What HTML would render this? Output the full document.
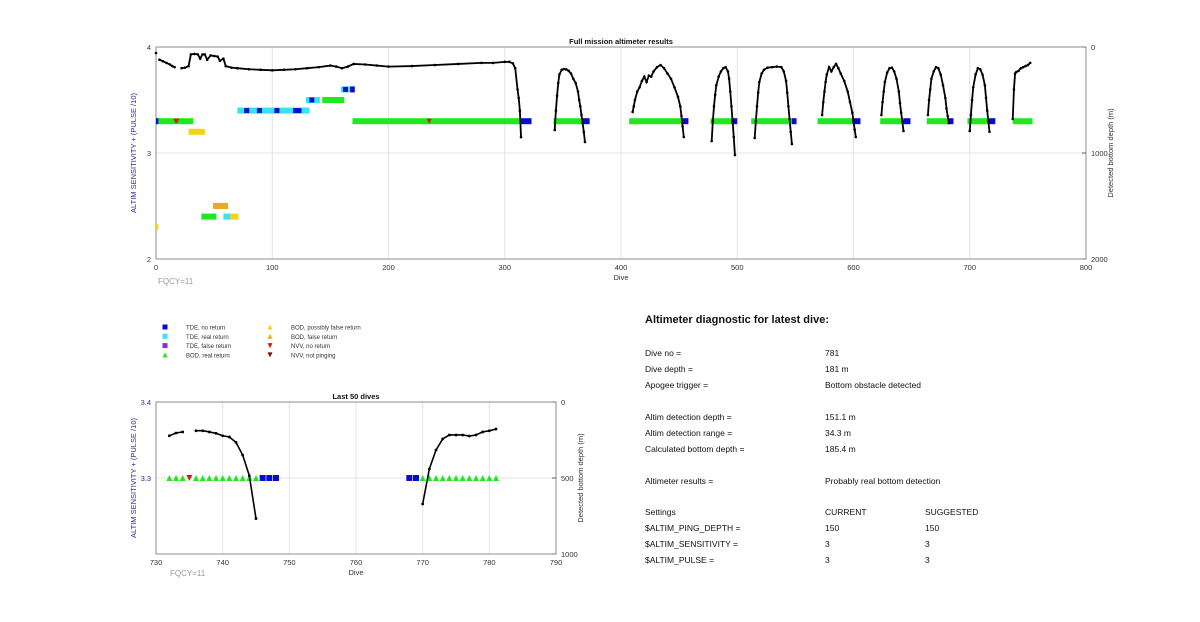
<!DOCTYPE html>
<html><head><meta charset="utf-8"><style>
body{margin:0;background:#fff;width:1200px;height:622px;overflow:hidden;font-family:"Liberation Sans",Arial,sans-serif}
svg{position:absolute;left:0;top:0}
.t{font-family:"Liberation Sans",Arial,sans-serif}
.panel div{position:absolute;font-size:8.5px;color:#111;white-space:nowrap}
</style></head><body>
<svg id="chart" width="1200" height="622"></svg>
<div class="panel">
<div style="left:645px;top:314px;font-size:11px;font-weight:bold">Altimeter diagnostic for latest dive:</div>
<div style="left:645px;top:348px">Dive no =</div><div style="left:825px;top:348px">781</div>
<div style="left:645px;top:364px">Dive depth =</div><div style="left:825px;top:364px">181 m</div>
<div style="left:645px;top:380px">Apogee trigger =</div><div style="left:825px;top:380px">Bottom obstacle detected</div>
<div style="left:645px;top:412px">Altim detection depth =</div><div style="left:825px;top:412px">151.1 m</div>
<div style="left:645px;top:428px">Altim detection range =</div><div style="left:825px;top:428px">34.3 m</div>
<div style="left:645px;top:444px">Calculated bottom depth =</div><div style="left:825px;top:444px">185.4 m</div>
<div style="left:645px;top:476px">Altimeter results =</div><div style="left:825px;top:476px">Probably real bottom detection</div>
<div style="left:645px;top:507px">Settings</div><div style="left:825px;top:507px">CURRENT</div><div style="left:925px;top:507px">SUGGESTED</div>
<div style="left:645px;top:523px">$ALTIM_PING_DEPTH =</div><div style="left:825px;top:523px">150</div><div style="left:925px;top:523px">150</div>
<div style="left:645px;top:539px">$ALTIM_SENSITIVITY =</div><div style="left:825px;top:539px">3</div><div style="left:925px;top:539px">3</div>
<div style="left:645px;top:555px">$ALTIM_PULSE =</div><div style="left:825px;top:555px">3</div><div style="left:925px;top:555px">3</div>
</div>
<script>
// ---- Top chart data ----
const topTicksX = [0,100,200,300,400,500,600,700,800];
const topTicksY = [2,3,4];
const topTicksDepth = [0,1000,2000];
const profDives = [
 [0],
 [3,6,9,12,14,16],
 [22,25,28,30,33,36,38,40,42,44,47,50,53,55,58,60,65,70,80,90,100,110,120,130,140,150,155,160,165,170,180,190,200,220,240,260,280,290,300,304,307,309,311,312,313,314],
 [343,344,345,346,347,349,351,353,355,357,359,361,363,364,365,366,367,368,369],
 [410,411,412,414,416,418,420,422,424,426,428,431,434,437,440,443,446,449,451,452,453,454],
 [478,479,480,481,482,484,486,488,490,492,493,494,495,496,497,498],
 [515,516,517,518,519,521,523,526,530,534,538,540,542,543,544,545,546,547],
 [573,574,575,576,577,579,581,583,585,587,589,592,595,597,599,600,601,602],
 [624,625,626,627,629,631,633,635,637,639,640,641,642,643],
 [664,665,666,667,669,671,673,675,677,679,680,681,682],
 [700,701,702,703,705,707,709,711,713,714,715,716,717],
 [737,738,739,740,742,744,746,748,750,752]
];
const profDepths = [
 [57],
 [120,135,150,165,180,190],
 [200,195,180,70,65,70,110,70,70,120,80,85,90,130,110,180,195,200,210,215,220,215,210,200,190,175,185,200,185,160,165,175,185,180,170,160,150,150,140,140,155,200,400,480,600,850],
 [783,600,460,340,260,215,208,212,225,250,300,340,420,500,560,640,720,800,896],
 [613,560,500,420,380,320,280,330,270,280,230,190,170,200,250,300,380,470,560,650,750,849],
 [887,700,560,450,360,280,230,200,190,230,300,420,560,700,850,1019],
 [858,700,560,430,330,250,215,195,190,185,190,230,320,430,560,680,800,915],
 [642,520,420,330,260,190,230,190,160,200,250,320,420,520,620,700,780,849],
 [642,520,420,330,240,200,195,230,300,420,530,620,700,792],
 [642,500,400,300,230,190,200,260,360,480,580,650,717],
 [792,640,500,380,260,200,210,260,360,480,600,700,800],
 [679,400,250,236,225,200,190,180,170,150]
];
// marker runs (in dives)
const barStart = [1, 0, 28, 70, 129, 143, 159, 167, 169, 313, 342, 367, 407, 452, 477, 495, 512, 547, 569, 599, 623, 643, 663, 681, 698, 716, 737, 49, 39, 58, 64, 0];
const barEnd   = [32,2, 42, 132, 141, 162, 167, 171, 313, 323, 367, 373, 452, 458, 495, 500, 547, 551, 599, 606, 643, 649, 681, 686, 716, 722, 754, 62, 52, 64, 71, 2];
const barLevel = [3.3,3.3,3.2,3.4,3.5,3.5,3.6,3.6,3.3,3.3,3.3,3.3,3.3,3.3,3.3,3.3,3.3,3.3,3.3,3.3,3.3,3.3,3.3,3.3,3.3,3.3,3.3,2.5,2.4,2.4,2.4,2.3];
const barType  = ['bod','tdeno','bodposs','tdereal','tdereal','bod','tdereal','tdeno','bod','tdeno','bod','tdeno','bod','tdeno','bod','tdeno','bod','tdeno','bod','tdeno','bod','tdeno','bod','tdeno','bod','tdeno','bod','bodfalse','bod','tdereal','bodposs','bodposs'];
const ptDives = [17, 18, 78, 89, 104, 120, 123, 134, 163, 235];
const ptLevels = [3.3, 3.3, 3.4, 3.4, 3.4, 3.4, 3.4, 3.5, 3.6, 3.3];
const ptTypes = ['nvv','nvv','tdeno','tdeno','tdeno','tdeno','tdeno','tdeno','tdeno','nvv'];

// ---- Bottom chart data ----
const botTicksX = [730,740,750,760,770,780,790];
const botTicksY = [3.3,3.4];
const botTicksDepth = [0,500,1000];
const botProfDives = [[732,733,734],[736,737,738,739,740,741,742,743,744,745],[770,771,772,773,774,775,776,777,778,779,780,781]];
const botProfDepths = [[222,204,197],[189,189,197,206,222,230,266,349,485,767],[671,441,316,243,217,217,217,224,217,197,189,178]];
const botMarkDives = [732,733,734,735,736,737,738,739,740,741,742,743,744,745,746,747,748,768,769,770,771,772,773,774,775,776,777,778,779,780,781];
const botMarkTypes = ['bod','bod','bod','nvv','bod','bod','bod','bod','bod','bod','bod','bod','bod','bod','tdeno','tdeno','tdeno','tdeno','tdeno','bod','bod','bod','bod','bod','bod','bod','bod','bod','bod','bod','bod'];
const botLevel = 3.3;

const colors = {tdeno:'#0a0ad2', tdereal:'#33e5f0', tdefalse:'#8a2be2', bod:'#1fe81f', bodposs:'#f2d21a', bodfalse:'#f0a81e', nvv:'#d21c12', nvvnp:'#7a0d0d'};

const svg = document.getElementById('chart');
const NS='http://www.w3.org/2000/svg';
function mk(tag, attrs, parent){const e=document.createElementNS(NS,tag);for(const k in attrs)e.setAttribute(k,attrs[k]);(parent||svg).appendChild(e);return e;}

const T = {x0:156,x1:1086,y0:47,y1:259};
const tx = d => T.x0 + (d-0)/(800-0)*(T.x1-T.x0);
const ty = v => T.y1 - (v-2)/(4-2)*(T.y1-T.y0);
const tdep = m => T.y0 + m/2000*(T.y1-T.y0);
const B = {x0:156,x1:556,y0:402,y1:554};
const bx = d => B.x0 + (d-730)/(790-730)*(B.x1-B.x0);
const by = v => B.y1 - (v-3.2)/(3.4-3.2)*(B.y1-B.y0);
const bdep = m => B.y0 + m/1000*(B.y1-B.y0);

function marker(g, type, x, y, s){
  let e;
  if(type.startsWith('tde')){e=mk('rect',{x:x-s/2,y:y-s/2,width:s,height:s,fill:colors[type]},g);}
  else if(type.startsWith('nvv')){e=mk('polygon',{points:`${x-s/2},${y-s/2} ${x+s/2},${y-s/2} ${x},${y+s/2}`,fill:colors[type]},g);}
  else {e=mk('polygon',{points:`${x-s/2},${y+s/2} ${x+s/2},${y+s/2} ${x},${y-s/2}`,fill:colors[type]},g);}
  
  
  return e;
}

function axesFrame(A, xt, xf, yt, yf, dt, df, name, title, xlab, ylab, rlab, yfmt){
  const g=mk('g',{});
  
  
  xt.forEach(v=>{const x=xf(v);
    const l=mk('line',{x1:x,x2:x,y1:A.y0,y2:A.y1,stroke:'#e4e4e4','stroke-width':1},g);
    
    
    const t=mk('text',{x:x,y:A.y1+11,'text-anchor':'middle','font-size':7.5,fill:'#333',class:'t'},g);t.textContent=v;
    
    });
  yt.forEach(v=>{const y=yf(v);
    const l=mk('line',{x1:A.x0,x2:A.x1,y1:y,y2:y,stroke:'#e4e4e4','stroke-width':1},g);
    
    
    const t=mk('text',{x:A.x0-5,y:y+3,'text-anchor':'end','font-size':7.5,fill:'#2a2aa8',class:'t'},g);t.textContent=yfmt(v);
    
    });
  dt.forEach(v=>{const y=df(v);
    mk('line',{x1:A.x1,x2:A.x1-4,y1:y,y2:y,stroke:'#555'},g);
    const t=mk('text',{x:A.x1+5,y:y+3,'font-size':7.5,fill:'#333',class:'t'},g);t.textContent=v;
    
    });
  const r=mk('rect',{x:A.x0,y:A.y0,width:A.x1-A.x0,height:A.y1-A.y0,fill:'none',stroke:'#777','stroke-width':0.8},g);
  
  
  const tt=mk('text',{x:(A.x0+A.x1)/2,y:A.y0-3,'text-anchor':'middle','font-size':7.5,'font-weight':'bold',fill:'#111',class:'t'},g);tt.textContent=title;
  
  
  const xl=mk('text',{x:(A.x0+A.x1)/2,y:A.y1+21,'text-anchor':'middle','font-size':7.5,fill:'#333',class:'t'},g);xl.textContent=xlab;
  
  
  const cy=(A.y0+A.y1)/2;
  const yl=mk('text',{x:A.x0-20,y:cy,'text-anchor':'middle','font-size':7.5,fill:'#2a2aa8',class:'t',transform:`rotate(-90 ${A.x0-20} ${cy})`},g);yl.textContent=ylab;
  
  
  const rl=mk('text',{x:A.x1+27,y:cy,'text-anchor':'middle','font-size':7.5,fill:'#333',class:'t',transform:`rotate(-90 ${A.x1+27} ${cy})`},g);rl.textContent=rlab;
  
  
  const fq=mk('text',{x:A.x0+(name==='top-chart'?2:14),y:A.y1+(name==='top-chart'?25:22),'font-size':8,fill:'#999',class:'t'},g);fq.textContent='FQCY=11';
  
  
  return g;
}

const gt = axesFrame(T, topTicksX, tx, topTicksY, ty, topTicksDepth, tdep, 'top-chart','Full mission altimeter results','Dive','ALTIM SENSITIVITY + (PULSE /10)','Detected bottom depth (m)', v=>v);
barStart.forEach((s,i)=>{
  const x1=tx(s), x2=tx(barEnd[i]), y=ty(barLevel[i]);
  const r=mk('rect',{x:x1,y:y-3,width:Math.max(2,x2-x1),height:6,fill:colors[barType[i]]},gt);
  
  
});
ptDives.forEach((d,i)=>marker(gt, ptTypes[i], tx(d), ty(ptLevels[i]), 5));
profDives.forEach((ds,i)=>{
  const pts=ds.map((d,j)=>tx(d)+','+tdep(profDepths[i][j])).join(' ');
  const p=mk('polyline',{points:pts,fill:'none',stroke:'#000','stroke-width':1.8},gt);
  
  
  ds.forEach((d,j)=>{const c=mk('circle',{cx:tx(d),cy:tdep(profDepths[i][j]),r:1.3,fill:'#000'},gt);
    
    });
});

const gb = axesFrame(B, botTicksX, bx, botTicksY, by, botTicksDepth, bdep, 'bottom-chart','Last 50 dives','Dive','ALTIM SENSITIVITY + (PULSE /10)','Detected bottom depth (m)', v=>v.toFixed(1));
botMarkDives.forEach((d,i)=>marker(gb, botMarkTypes[i], bx(d), by(botLevel), 6));
botProfDives.forEach((ds,i)=>{
  const pts=ds.map((d,j)=>bx(d)+','+bdep(botProfDepths[i][j])).join(' ');
  const p=mk('polyline',{points:pts,fill:'none',stroke:'#000','stroke-width':1.6},gb);
  
  
  ds.forEach((d,j)=>{const c=mk('circle',{cx:bx(d),cy:bdep(botProfDepths[i][j]),r:1.4,fill:'#000'},gb);
    
    });
});

const legendLabels = ['TDE, no return','TDE, real return','TDE, false return','BOD, real return','BOD, possibly false return','BOD, false return','NVV, no return','NVV, not pinging'];
const legendTypes = ['tdeno','tdereal','tdefalse','bod','bodposs','bodfalse','nvv','nvvnp'];
const gl=mk('g',{});


legendLabels.forEach((lab,i)=>{
  const col=Math.floor(i/4), row=i%4;
  const x=165+col*105, y=327+row*9.3;
  marker(gl, legendTypes[i], x, y, 5);
  const t=mk('text',{x:x+21,y:y+2.5,'font-size':6,fill:'#333',class:'t'},gl);t.textContent=lab;
  
  
});
</script>
</body></html>
